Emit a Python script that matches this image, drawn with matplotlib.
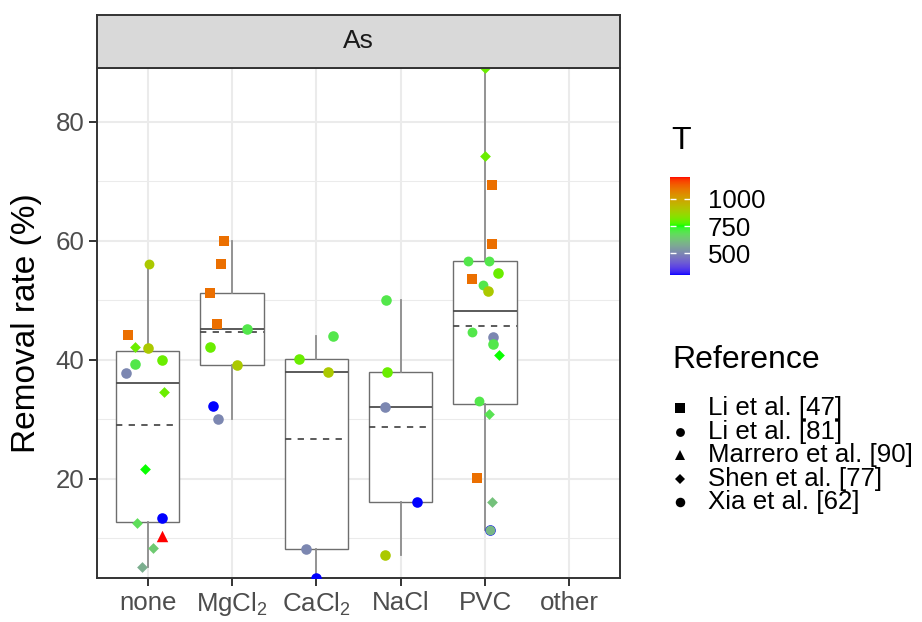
import numpy as np
import matplotlib
matplotlib.use('Agg')
import matplotlib.pyplot as plt
from matplotlib.colors import ListedColormap, Normalize
from matplotlib.cm import ScalarMappable
from matplotlib.lines import Line2D
from matplotlib.ticker import MultipleLocator

plt.rcParams['font.family'] = ['Liberation Sans', 'DejaVu Sans']
plt.rcParams['mathtext.fontset'] = 'custom'
plt.rcParams['mathtext.rm'] = 'Liberation Sans'
plt.rcParams['mathtext.it'] = 'Liberation Sans:italic'
plt.rcParams['mathtext.bf'] = 'Liberation Sans:bold'
plt.rcParams['mathtext.default'] = 'regular'

# ---------------- data ----------------
categories = ['none', 'MgCl2', 'CaCl2', 'NaCl', 'PVC', 'other']
category_labels = ['none', r'MgCl$_2$', r'CaCl$_2$', 'NaCl', 'PVC', 'other']
references = ['Li et al. [47]', 'Li et al. [81]', 'Marrero et al. [90]',
              'Shen et al. [77]', 'Xia et al. [62]']
facet_title = 'As'
y_label = 'Removal rate (%)'
T_limits = [300, 1200]
T_ticks = [500, 750, 1000]

point_category = (['none'] * 14 + ['MgCl2'] * 9 + ['CaCl2'] * 5 +
                  ['NaCl'] * 5 + ['PVC'] * 20)
point_value = [56.1, 44.1, 42.2, 42.0, 39.2, 40.0, 37.8, 34.5, 21.6, 13.4, 12.5, 10.3, 8.3, 5.1,
               60.0, 56.1, 51.2, 46.0, 45.1, 42.1, 39.1, 32.2, 30.1,
               44.0, 40.1, 38.0, 8.1, 3.3,
               50.0, 38.0, 32.1, 16.1, 7.2,
               89.0, 74.2, 69.4, 59.5, 56.5, 56.5, 54.6, 53.6, 52.6, 51.6,
               44.7, 43.8, 42.7, 40.7, 33.0, 30.9, 20.1, 16.1, 11.3, 11.3]
point_T = [900, 1100, 800, 900, 700, 800, 500, 800, 750, 300, 680, 1200, 640, 580,
           1100, 1100, 1100, 1100, 700, 800, 900, 300, 500,
           700, 800, 900, 500, 300,
           700, 800, 500, 300, 900,
           800, 800, 1100, 1100, 700, 700, 800, 1100, 700, 900,
           700, 500, 700, 750, 700, 690, 1100, 620, 300, 600]
point_reference = ['Li et al. [81]', 'Li et al. [47]', 'Shen et al. [77]', 'Xia et al. [62]',
                   'Xia et al. [62]', 'Xia et al. [62]', 'Xia et al. [62]', 'Shen et al. [77]',
                   'Shen et al. [77]', 'Xia et al. [62]', 'Shen et al. [77]', 'Marrero et al. [90]',
                   'Shen et al. [77]', 'Shen et al. [77]',
                   'Li et al. [47]', 'Li et al. [47]', 'Li et al. [47]', 'Li et al. [47]',
                   'Xia et al. [62]', 'Xia et al. [62]', 'Xia et al. [62]', 'Xia et al. [62]',
                   'Xia et al. [62]',
                   'Xia et al. [62]', 'Xia et al. [62]', 'Xia et al. [62]', 'Xia et al. [62]',
                   'Xia et al. [62]',
                   'Xia et al. [62]', 'Xia et al. [62]', 'Xia et al. [62]', 'Xia et al. [62]',
                   'Xia et al. [62]',
                   'Shen et al. [77]', 'Shen et al. [77]', 'Li et al. [47]', 'Li et al. [47]',
                   'Li et al. [81]', 'Li et al. [81]', 'Xia et al. [62]', 'Li et al. [47]',
                   'Li et al. [81]', 'Xia et al. [62]', 'Li et al. [81]', 'Xia et al. [62]',
                   'Xia et al. [62]', 'Shen et al. [77]', 'Li et al. [81]', 'Shen et al. [77]',
                   'Li et al. [47]', 'Shen et al. [77]', 'Xia et al. [62]', 'Li et al. [81]']
# horizontal jitter (category units) as seen in the picture
point_jitter = [0.02, -0.23, -0.15, 0.00, -0.15, 0.17, -0.26, 0.19, -0.03, 0.17, -0.13, 0.17, 0.06, -0.07,
                -0.10, -0.13, -0.26, -0.18, 0.18, -0.26, 0.06, -0.22, -0.17,
                0.20, -0.20, 0.14, -0.12, 0.00,
                -0.17, -0.16, -0.19, 0.19, -0.18,
                0.00, 0.00, 0.08, 0.08, -0.20, 0.05, 0.15, -0.16, -0.03, 0.03,
                -0.15, 0.09, 0.09, 0.17, -0.07, 0.05, -0.10, 0.08, 0.06, 0.06]

# ---------------- styles ----------------
ref_marker = {'Li et al. [47]': 's', 'Li et al. [81]': 'o', 'Marrero et al. [90]': '^',
              'Shen et al. [77]': 'D', 'Xia et al. [62]': 'o'}
ref_size = {'Li et al. [47]': 56, 'Li et al. [81]': 50, 'Marrero et al. [90]': 68,
            'Shen et al. [77]': 30, 'Xia et al. [62]': 58}

# Lab-space colour ramp blue -> green -> red
M = np.array([[0.4124564, 0.3575761, 0.1804375],
              [0.2126729, 0.7151522, 0.0721750],
              [0.0193339, 0.1191920, 0.9503041]])
WHITE = np.array([0.95047, 1.0, 1.08883])
EPS = 216 / 24389
KAP = 24389 / 27


def srgb_to_lab(rgb):
    rgb = np.asarray(rgb, float)
    lin = np.where(rgb <= 0.04045, rgb / 12.92, ((rgb + 0.055) / 1.055) ** 2.4)
    xyz = lin @ M.T
    r = xyz / WHITE
    f = np.where(r > EPS, np.cbrt(r), (KAP * r + 16) / 116)
    L = 116 * f[..., 1] - 16
    a = 500 * (f[..., 0] - f[..., 1])
    b = 200 * (f[..., 1] - f[..., 2])
    return np.stack([L, a, b], -1)


def lab_to_srgb(lab):
    L, a, b = lab[..., 0], lab[..., 1], lab[..., 2]
    fy = (L + 16) / 116
    fx = fy + a / 500
    fz = fy - b / 200
    xr = np.where(fx ** 3 > EPS, fx ** 3, (116 * fx - 16) / KAP)
    yr = np.where(L > KAP * EPS, fy ** 3, L / KAP)
    zr = np.where(fz ** 3 > EPS, fz ** 3, (116 * fz - 16) / KAP)
    xyz = np.stack([xr, yr, zr], -1) * WHITE
    lin = np.clip(xyz @ np.linalg.inv(M).T, 0, 1)
    rgb = np.where(lin <= 0.0031308, 12.92 * lin, 1.055 * lin ** (1 / 2.4) - 0.055)
    return np.clip(rgb, 0, 1)


anchors = srgb_to_lab(np.array([[0, 0, 1], [0, 1, 0], [1, 0, 0]], float))
tt = np.linspace(0, 1, 512)
seg = np.minimum((tt * 2).astype(int), 1)
loc = tt * 2 - seg
labs = anchors[seg] * (1 - loc)[:, None] + anchors[seg + 1] * loc[:, None]
cmap = ListedColormap(lab_to_srgb(labs))
norm = Normalize(T_limits[0], T_limits[1])

# ---------------- figure ----------------
W, H = 922, 622
fig = plt.figure(figsize=(W / 100, H / 100), dpi=100)


def fx(px):
    return px / W


def fy(py):
    return 1 - py / H


pl, pr, pt, pb = 97, 620, 68, 578
ax = fig.add_axes([fx(pl), fy(pb), fx(pr - pl), (pb - pt) / H])
strip = fig.add_axes([fx(pl), fy(pt), fx(pr - pl), (pt - 15) / H])

grid_c = '#EBEBEB'
dark = '#333333'
tick_c = '#4D4D4D'

# boxplots
pos_of = {c: i for i, c in enumerate(categories)}
box_data, box_pos = [], []
for c in categories:
    vals = [v for v, pc in zip(point_value, point_category) if pc == c]
    if vals:
        box_data.append(vals)
        box_pos.append(pos_of[c])
ax.boxplot(box_data, positions=box_pos, widths=0.75, showfliers=False, showcaps=False,
           showmeans=True, meanline=True, patch_artist=True, manage_ticks=False,
           boxprops=dict(facecolor='white', edgecolor='#6E6E6E', linewidth=1.0),
           whiskerprops=dict(color='#8C8C8C', linewidth=1.3),
           medianprops=dict(color='#4D4D4D', linewidth=1.3),
           meanprops=dict(color='#4D4D4D', linewidth=1.3, linestyle=(0, (3.5, 3.5))),
           zorder=2)

# points
for k, (c, v, T, r, j) in enumerate(zip(point_category, point_value, point_T,
                                        point_reference, point_jitter)):
    ax.scatter(pos_of[c] + j, v, marker=ref_marker[r], s=ref_size[r],
               color=cmap(norm(T)), linewidths=0, zorder=3 + k * 0.01)

ax.set_xlim(-0.6, len(categories) - 0.4)
ax.set_ylim(min(point_value), max(point_value))
ax.set_xticks(range(len(categories)))
ax.set_xticklabels(category_labels)
ax.yaxis.set_major_locator(MultipleLocator(20))
ax.yaxis.set_minor_locator(MultipleLocator(10))
ax.grid(True, which='major', color=grid_c, linewidth=1.45, zorder=0)
ax.grid(True, which='minor', axis='y', color=grid_c, linewidth=0.75, zorder=0)
ax.set_axisbelow(True)
ax.tick_params(which='major', length=6, width=1.4, color=dark, labelsize=18.6,
               labelcolor=tick_c, pad=3)
ax.tick_params(which='minor', length=0)
for s in ax.spines.values():
    s.set_color(dark)
    s.set_linewidth(1.4)
ax.text((27 - pl) / (pr - pl), 0.5, y_label, rotation=90, fontsize=24, color='black',
        ha='center', va='center', transform=ax.transAxes)

# strip
strip.set_facecolor('#D9D9D9')
strip.set_xticks([])
strip.set_yticks([])
for s in strip.spines.values():
    s.set_color(dark)
    s.set_linewidth(1.4)
strip.text(0.5, 0.5, facet_title, ha='center', va='center', fontsize=19, color='#1A1A1A',
           transform=strip.transAxes)

# colorbar
cax = fig.add_axes([fx(670), fy(275), fx(20), 98 / H])
cb = fig.colorbar(ScalarMappable(norm=norm, cmap=cmap), cax=cax)
cb.outline.set_visible(False)
cb.set_ticks(T_ticks)
cax.yaxis.set_ticks_position('both')
cax.tick_params(direction='in', color='white', length=4, width=1, labelsize=18.6,
                labelleft=False, labelright=True, pad=13, labelcolor='black')
fig.text(fx(671), fy(141), 'T', fontsize=23, va='center', ha='left')

# reference legend
fig.text(fx(672), fy(360), 'Reference', fontsize=23, va='center', ha='left')
for i, r in enumerate(references):
    yy = 408 + i * 23.6
    fig.add_artist(Line2D([fx(680)], [fy(yy)], marker=ref_marker[r],
                          markersize=np.sqrt(ref_size[r]) * 0.9, color='black',
                          markeredgewidth=0, linestyle='none', transform=fig.transFigure))
    fig.text(fx(708), fy(yy), r, fontsize=18.6, va='center', ha='left')

fig.savefig('out.png', dpi=100)
